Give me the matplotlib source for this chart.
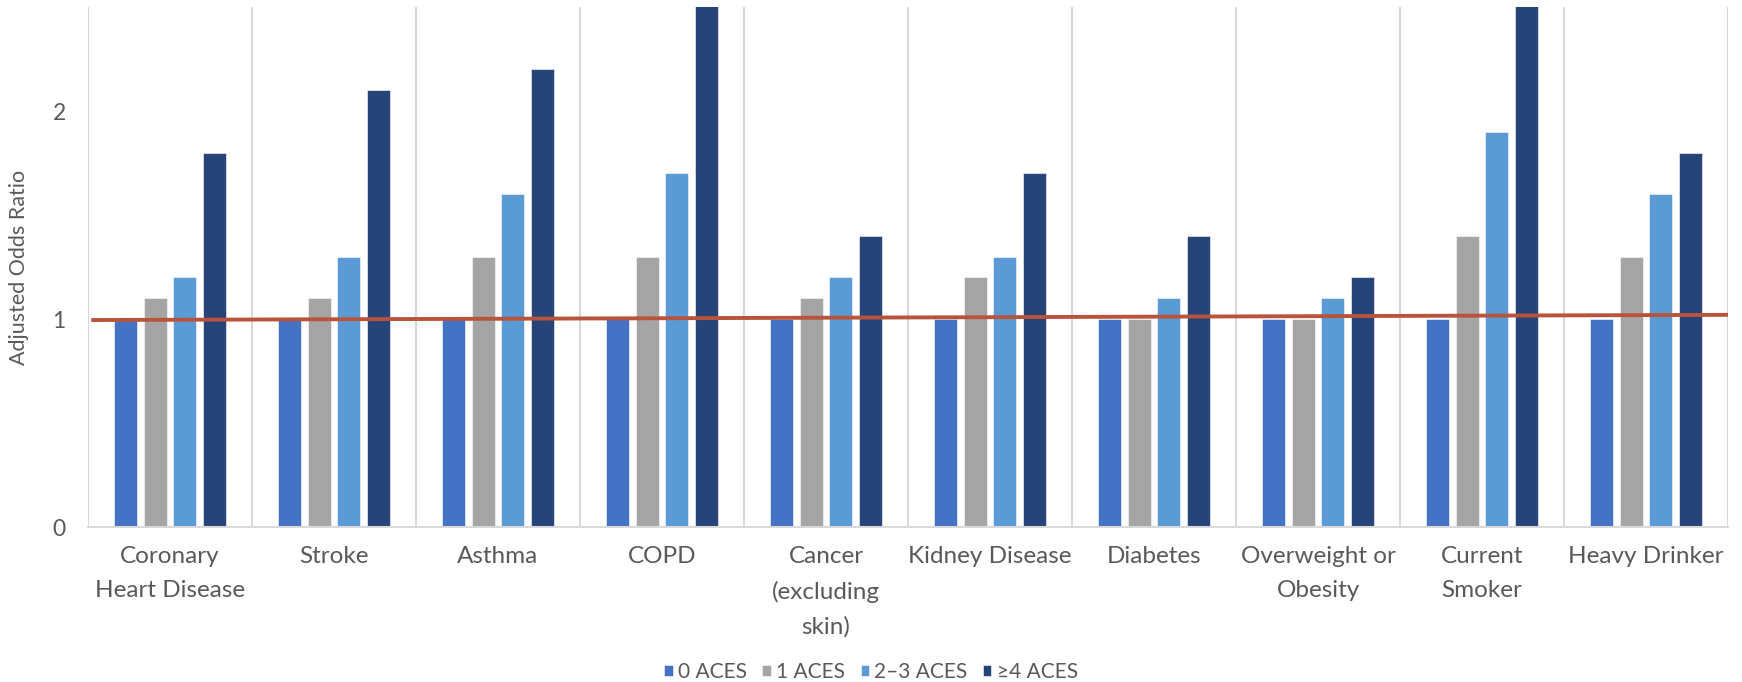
import numpy as np
import matplotlib
matplotlib.use("Agg")
import matplotlib.pyplot as plt

# Categories and adjusted odds ratios by number of ACEs
categories = ["Coronary\nHeart Disease", "Stroke", "Asthma", "COPD",
              "Cancer\n(excluding\nskin)", "Kidney Disease", "Diabetes",
              "Overweight or\nObesity", "Current\nSmoker", "Heavy Drinker"]
series_names = ["0 ACES", "1 ACES", "2\u20133 ACES", "\u22654 ACES"]
aces_0 = [1.0, 1.0, 1.0, 1.0, 1.0, 1.0, 1.0, 1.0, 1.0, 1.0]
aces_1 = [1.1, 1.1, 1.3, 1.3, 1.1, 1.2, 1.0, 1.0, 1.4, 1.3]
aces_2_3 = [1.2, 1.3, 1.6, 1.7, 1.2, 1.3, 1.1, 1.1, 1.9, 1.6]
aces_4 = [1.8, 2.1, 2.2, 2.8, 1.4, 1.7, 1.4, 1.2, 2.8, 1.8]
y_ticks = [0, 1, 2]
# reference line drawn near an odds ratio of 1 (slightly tilted in the original)
ref_line_y = [0.995, 1.02]

colors = ["#4472C4", "#A5A5A5", "#5B9BD5", "#264478"]
text_color = "#595959"
grid_color = "#D9D9D9"

plt.rcParams["font.family"] = ["Lato", "DejaVu Sans"]

fig = plt.figure(figsize=(17.42, 6.82), dpi=100)
ax = fig.add_axes([88 / 1742, 155 / 682, 1640 / 1742, 520 / 682])

x = np.arange(len(categories))
bar_w = 0.14
step = 0.18
all_series = [aces_0, aces_1, aces_2_3, aces_4]
for i, vals in enumerate(all_series):
    offset = (i - 1.5) * step
    ax.bar(x + offset, vals, width=bar_w, color=colors[i], label=series_names[i],
           edgecolor="white", linewidth=0.4, zorder=2)

# reference line across the whole plot
ax.plot([-0.48, len(categories) - 0.48], ref_line_y, color="#B9543C", lw=2.8, zorder=3,
        solid_capstyle="butt")

ax.set_xlim(-0.5, len(categories) - 0.5)
ax.set_ylim(0, 2.5)
ax.set_yticks(y_ticks)
ax.set_yticklabels([str(t) for t in y_ticks])
ax.set_xticks(x)
ax.set_xticklabels(categories, linespacing=1.75)

# vertical separators between categories
ax.set_xticks(np.arange(len(categories) + 1) - 0.5, minor=True)
ax.grid(which="minor", axis="x", color=grid_color, lw=1.5, zorder=0)
ax.grid(which="major", visible=False)

for s in ["top", "left", "right"]:
    ax.spines[s].set_visible(False)
ax.spines["bottom"].set_color(grid_color)
ax.spines["bottom"].set_linewidth(1.5)

ax.tick_params(axis="both", which="both", length=0)
ax.tick_params(axis="x", labelsize=17.5, labelcolor=text_color, pad=14)
ax.tick_params(axis="y", labelsize=16.5, labelcolor=text_color, pad=16)

ax.set_ylabel("Adjusted Odds Ratio", fontsize=15.5, color=text_color)
ax.yaxis.set_label_coords(-0.036, 0.5)

fig.legend(loc="center", bbox_to_anchor=(0.5, 0.015), ncol=4, frameon=False,
           fontsize=15, handlelength=0.4, handleheight=0.4, handletextpad=0.25,
           columnspacing=0.75, labelcolor=text_color)

fig.savefig("out.png", dpi=100)
